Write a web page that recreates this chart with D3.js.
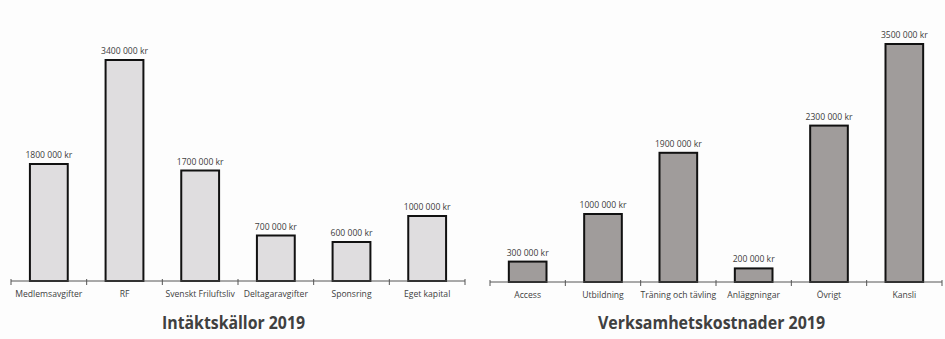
<!DOCTYPE html>
<html><head><meta charset="utf-8">
<script src="https://cdn.jsdelivr.net/npm/d3@7"></script>
<style>
html,body{margin:0;padding:0;background:#fdfdfd;}
svg{display:block;}
text{font-family:"Open Sans","DejaVu Sans",sans-serif;fill:#404040;}
</style></head>
<body>
<svg id="chart" width="945" height="339"></svg>
<script>
const incomeCategories = ["Medlemsavgifter","RF","Svenskt Friluftsliv","Deltagaravgifter","Sponsring","Eget kapital"];
const incomeValues = [1800000,3400000,1700000,700000,600000,1000000];
const incomeTitle = "Intäktskällor 2019";

const costCategories = ["Access","Utbildning","Träning och tävling","Anläggningar","Övrigt","Kansli"];
const costValues = [300000,1000000,1900000,200000,2300000,3500000];
const costTitle = "Verksamhetskostnader 2019";

function label(v){
  // Excel style "3400 000 kr"
  const s = String(v);
  return s.slice(0, s.length-3) + " " + s.slice(s.length-3) + " kr";
}

const svg = d3.select("#chart");

function drawChart(cfg){
  const g = svg.append("g");
  const x = d3.scaleBand().domain(cfg.cats).range([cfg.x0, cfg.x1]).paddingInner(0.5).paddingOuter(0.25);
  const y = d3.scaleLinear().domain([0, 4000000]).range([cfg.base, cfg.top]);

  g.selectAll("rect.bar").data(cfg.vals).enter().append("rect")
    .attr("class","bar")
    .attr("x",(d,i)=>x(cfg.cats[i]))
    .attr("y",d=>y(d))
    .attr("width",x.bandwidth())
    .attr("height",d=>cfg.base - y(d))
    .attr("fill",cfg.fill)
    .attr("stroke","#111")
    .attr("stroke-width",2);

  g.selectAll("text.val").data(cfg.vals).enter().append("text")
    .attr("class","val")
    .attr("x",(d,i)=>x(cfg.cats[i]) + x.bandwidth()/2)
    .attr("y",d=>y(d) - 6)
    .attr("text-anchor","middle")
    .attr("font-size","8.6px")
    .text(d=>label(d));

  const step = x.step();
  g.append("line").attr("x1",cfg.x0).attr("x2",cfg.x1).attr("y1",cfg.base).attr("y2",cfg.base)
    .attr("stroke","#555").attr("stroke-width",1);
  const ticks = d3.range(cfg.cats.length + 1).map(i => cfg.x0 + i*step);
  g.selectAll("line.tick").data(ticks).enter().append("line")
    .attr("x1",d=>d).attr("x2",d=>d).attr("y1",cfg.base - 2).attr("y2",cfg.base + 4)
    .attr("stroke","#555").attr("stroke-width",1);

  g.selectAll("text.cat").data(cfg.cats).enter().append("text")
    .attr("class","cat")
    .attr("x",d=>x(d) + x.bandwidth()/2)
    .attr("y",cfg.base + 16)
    .attr("text-anchor","middle")
    .attr("font-size","8.6px")
    .text(d=>d);

  g.append("text")
    .attr("x",cfg.titleX)
    .attr("y",329)
    .attr("text-anchor","middle")
    .attr("font-size","18px")
    .attr("font-weight","bold")
    .attr("textLength",cfg.titleW)
    .attr("lengthAdjust","spacingAndGlyphs")
    .text(cfg.title);
}

drawChart({cats:incomeCategories, vals:incomeValues, title:incomeTitle, x0:11, x1:465, base:281, top:21, fill:"#dfdddf", titleX:233.5, titleW:143});
drawChart({cats:costCategories, vals:costValues, title:costTitle, x0:490, x1:942, base:282, top:10, fill:"#a09c9b", titleX:711.5, titleW:227});
</script>
</body></html>
